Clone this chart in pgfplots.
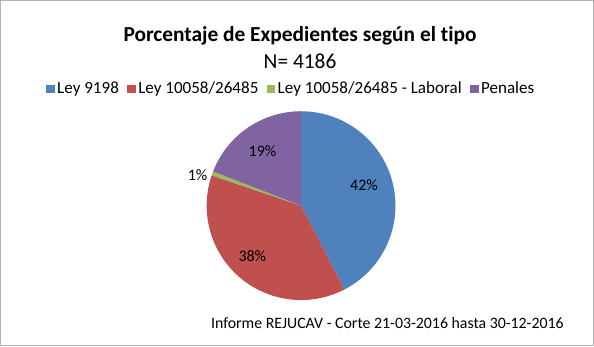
\documentclass[border=0pt]{standalone}
\usepackage{pgfplots}
\usepackage{pgfplotstable}
\pgfplotsset{compat=1.18}
\usepackage{fontspec}
\setmainfont{Carlito}[Ligatures=NoCommon]
\definecolor{cA}{HTML}{4F81BD}
\definecolor{cB}{HTML}{C0504D}
\definecolor{cC}{HTML}{9BBB59}
\definecolor{cD}{HTML}{8064A2}
\pgfplotstableread{
name value
A 42.4
B 37.8
C 0.7
D 19.1
}\pietable
\pgfplotstablegetelem{0}{value}\of\pietable \let\vA\pgfplotsretval
\pgfplotstablegetelem{1}{value}\of\pietable \let\vB\pgfplotsretval
\pgfplotstablegetelem{2}{value}\of\pietable \let\vC\pgfplotsretval
\pgfplotstablegetelem{3}{value}\of\pietable \let\vD\pgfplotsretval
\pgfmathsetmacro\aA{90}
\pgfmathsetmacro\aB{\aA-3.6*\vA}
\pgfmathsetmacro\aC{\aB-3.6*\vB}
\pgfmathsetmacro\aD{\aC-3.6*\vC}
\pgfmathsetmacro\aE{\aD-3.6*\vD}
\begin{document}
\begin{tikzpicture}
\begin{axis}[
  width=445.5pt, height=264pt, scale only axis,
  xmin=0, xmax=594, ymin=0, ymax=352,
  hide axis, clip=false,
  legend columns=4,
  legend style={draw=none, fill=none, at={(axis cs:291.5,260)}, anchor=center,
    font=\fontsize{12.6}{15}\selectfont,
    /tikz/every even column/.append style={column sep=4.3pt},
    nodes={inner sep=1.8pt}},
  legend image code/.code={\fill[#1] (0pt,-3.2pt) rectangle (6.4pt,3.2pt);},
]
\addplot[fill=cA, draw=none, domain=\aB:\aA, samples=80] ({301+93*cos(x)},{145+93*sin(x)}) -- (axis cs:301,145) -- cycle;
\addlegendentry{Ley 9198}
\addplot[fill=cB, draw=none, domain=\aC:\aB, samples=80] ({301+93*cos(x)},{145+93*sin(x)}) -- (axis cs:301,145) -- cycle;
\addlegendentry{Ley 10058/26485}
\addplot[fill=cC, draw=none, domain=\aD:\aC, samples=10] ({301+93*cos(x)},{145+93*sin(x)}) -- (axis cs:301,145) -- cycle;
\addlegendentry{Ley 10058/26485 - Laboral}
\addplot[fill=cD, draw=none, domain=\aE:\aD, samples=60] ({301+93*cos(x)},{145+93*sin(x)}) -- (axis cs:301,145) -- cycle;
\addlegendentry{Penales}
\draw[gray!60, line width=0.9pt] (axis cs:5,7) rectangle (axis cs:589,347);
\node[anchor=base, font=\bfseries\fontsize{15.8}{19}\selectfont] at (axis cs:300,307) {Porcentaje de Expedientes según el tipo};
\node[anchor=base, font=\fontsize{15.8}{19}\selectfont] at (axis cs:300,280) {N= 4186};
\begin{scope}[font=\fontsize{11.8}{14}\selectfont]
\node at (axis cs:363,165) {42\%};
\node at (axis cs:253,95) {38\%};
\node at (axis cs:263,199) {19\%};
\node at (axis cs:199,175) {1\%};
\end{scope}
\node[anchor=base east, font=\fontsize{11.7}{14}\selectfont, inner sep=0pt] at (axis cs:560,24) {Informe REJUCAV - Corte 21-03-2016 hasta 30-12-2016};
\end{axis}
\end{tikzpicture}
\end{document}
